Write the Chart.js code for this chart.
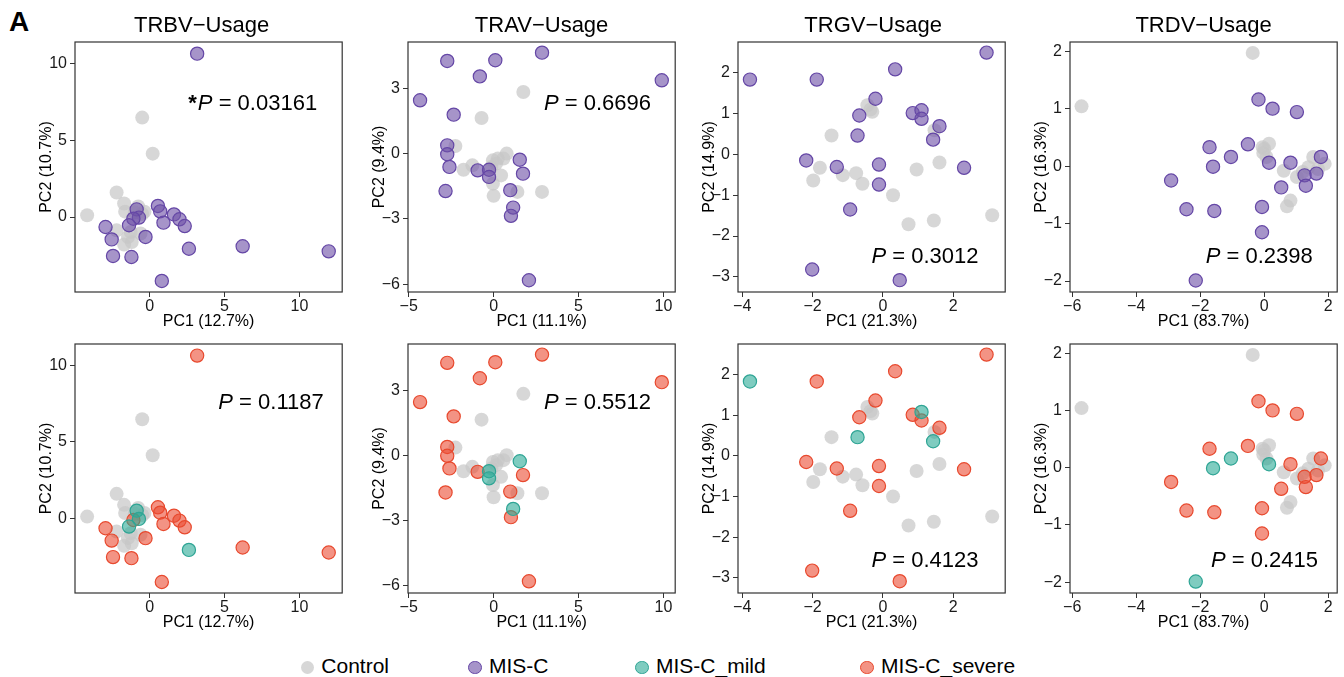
<!DOCTYPE html>
<html>
<head>
<meta charset="utf-8">
<script src="https://cdn.jsdelivr.net/npm/chart.js@4.4.1/dist/chart.umd.min.js"></script>
<style>
  html, body { margin:0; padding:0; background:#fff; overflow:hidden; }
  #wrap { position:relative; width:1344px; height:677px; font-family:'Liberation Sans', Arial, sans-serif; }
  .panel { position:absolute; }
  .panel canvas { display:block; }
  #figA { position:absolute; left:9px; top:8px; font-weight:bold; font-size:28px; line-height:28px; color:#000; }
  .lg-dot { position:absolute; width:11.5px; height:11.5px; border-radius:50%; border:1px solid; }
  .lg-txt { position:absolute; font-size:21px; line-height:21px; color:#000; white-space:nowrap; }
</style>
</head>
<body>
<div id="wrap">
  <div id="figA">A</div>
  <div class="panel" style="left:35px;top:0px"><canvas id="t0" width="315" height="332"></canvas></div>
  <div class="panel" style="left:368px;top:0px"><canvas id="t1" width="315" height="332"></canvas></div>
  <div class="panel" style="left:698px;top:0px"><canvas id="t2" width="315" height="332"></canvas></div>
  <div class="panel" style="left:1030px;top:0px"><canvas id="t3" width="315" height="332"></canvas></div>
  <div class="panel" style="left:35px;top:330px"><canvas id="b0" width="315" height="303"></canvas></div>
  <div class="panel" style="left:368px;top:330px"><canvas id="b1" width="315" height="303"></canvas></div>
  <div class="panel" style="left:698px;top:330px"><canvas id="b2" width="315" height="303"></canvas></div>
  <div class="panel" style="left:1030px;top:330px"><canvas id="b3" width="315" height="303"></canvas></div>
  <div id="legend"></div>
</div>
<script>
// ---------------- DATA ----------------
const panelTitles = ['TRBV−Usage', 'TRAV−Usage', 'TRGV−Usage', 'TRDV−Usage'];
const pc1Labels = ['PC1 (12.7%)', 'PC1 (11.1%)', 'PC1 (21.3%)', 'PC1 (83.7%)'];
const pc2Labels = ['PC2 (10.7%)', 'PC2 (9.4%)', 'PC2 (14.9%)', 'PC2 (16.3%)'];
const pValuesTop = ['0.03161', '0.6696', '0.3012', '0.2398'];
const pValuesBottom = ['0.1187', '0.5512', '0.4123', '0.2415'];
const significantTop = [true, false, false, false];
const groupNames = ['Control', 'MIS-C', 'MIS-C_mild', 'MIS-C_severe'];

const trbvXTicks = [0, 5, 10];
const trbvYTicks = [0, 5, 10];
const travXTicks = [-5, 0, 5, 10];
const travYTicks = [-6, -3, 0, 3];
const trgvXTicks = [-4, -2, 0, 2];
const trgvYTicks = [-3, -2, -1, 0, 1, 2];
const trdvXTicks = [-6, -4, -2, 0, 2];
const trdvYTicks = [-2, -1, 0, 1, 2];

// [PC1, PC2]
const trbvControl = [[-4.18,0.11],[-0.50,6.48],[0.20,4.13],[-2.21,1.60],[-1.71,0.88],[-1.64,0.35],[-0.77,0.68],[-0.35,0.35],[-2.21,-0.87],[-1.71,-1.80],[-1.20,-1.63],[-1.27,-0.98],[-0.61,-1.08],[-0.50,0.20],[-1.00,0.30],[-1.45,-1.30]];
const trbvMISC = [[3.17,10.65],[0.55,0.72],[0.70,0.37],[1.62,0.17],[1.99,-0.15],[2.34,-0.59],[0.92,-0.37],[-0.87,0.50],[-0.72,-0.04],[-1.09,-0.11],[-1.38,-0.54],[-2.95,-0.65],[-2.54,-1.46],[-0.28,-1.30],[2.62,-2.07],[6.21,-1.91],[11.96,-2.24],[-2.45,-2.54],[-1.22,-2.61],[0.81,-4.17]];
const trbvSeverity = ['severe','severe','severe','severe','severe','severe','severe','mild','mild','severe','mild','severe','severe','severe','mild','severe','severe','severe','severe','severe'];

const travControl = [[1.75,2.83],[-0.71,1.64],[-2.25,0.35],[-1.77,-0.74],[-1.25,-0.54],[-0.04,-0.31],[0.25,-0.23],[0.58,-0.23],[0.77,0.00],[0.44,-1.00],[-0.04,-1.38],[0.00,-1.94],[1.40,-1.76],[2.85,-1.76],[-0.13,-0.61],[0.15,-0.45]];
const travMISC = [[-2.73,4.26],[0.10,4.29],[2.85,4.64],[-0.81,3.55],[9.90,3.37],[-4.33,2.45],[-2.35,1.79],[-2.73,0.38],[-2.73,-0.03],[-2.60,-0.61],[-0.94,-0.77],[-0.27,-0.74],[-0.27,-1.07],[1.54,-0.28],[1.73,-0.92],[-2.83,-1.72],[0.98,-1.68],[1.15,-2.48],[1.02,-2.86],[2.08,-5.82]];
const travSeverity = ['severe','severe','severe','severe','severe','severe','severe','severe','severe','severe','severe','mild','mild','mild','severe','severe','severe','mild','severe','severe'];

const trgvControl = [[-0.44,1.20],[-0.30,1.04],[-1.46,0.46],[1.47,0.59],[-1.79,-0.33],[-1.98,-0.64],[-1.14,-0.51],[-0.76,-0.46],[-0.58,-0.72],[0.29,-1.00],[0.96,-0.37],[1.61,-0.20],[0.73,-1.71],[1.45,-1.62],[3.11,-1.49],[-0.35,1.10]];
const trgvMISC = [[-3.78,1.83],[-1.88,1.83],[0.35,2.08],[2.95,2.49],[-0.21,1.36],[-0.67,0.95],[0.85,1.01],[1.10,1.08],[1.10,0.87],[-0.72,0.46],[1.61,0.69],[1.43,0.36],[-2.18,-0.15],[-1.31,-0.31],[-0.11,-0.25],[-0.11,-0.74],[2.31,-0.33],[-0.93,-1.35],[-2.01,-2.82],[0.48,-3.08]];
const trgvSeverity = ['mild','severe','severe','severe','severe','severe','severe','mild','severe','mild','severe','mild','severe','severe','severe','severe','severe','severe','severe','severe'];

const trdvControl = [[-0.36,1.97],[-5.71,1.04],[-0.05,0.33],[0.15,0.39],[-0.03,0.23],[0.07,0.16],[0.61,-0.08],[1.02,-0.19],[1.38,-0.02],[1.53,0.16],[1.89,0.04],[0.82,-0.60],[0.71,-0.70],[1.68,-0.05],[1.20,-0.10],[0.00,0.30]];
const trdvMISC = [[-0.18,1.16],[0.26,1.00],[1.02,0.94],[-1.71,0.33],[-0.51,0.38],[-1.04,0.16],[-1.60,-0.01],[0.15,0.06],[0.82,0.06],[1.77,0.16],[1.26,-0.16],[1.63,-0.13],[1.30,-0.34],[0.53,-0.37],[-2.91,-0.25],[-2.43,-0.75],[-1.56,-0.78],[-0.07,-0.71],[-0.07,-1.15],[-2.14,-1.99]];
const trdvSeverity = ['severe','severe','severe','severe','severe','mild','mild','mild','severe','severe','severe','severe','severe','severe','severe','severe','severe','severe','severe','mild'];

// ---------------- STYLE / LAYOUT ----------------
const COLORS = {
  control: { fill: 'rgba(200,200,200,0.72)', border: 'rgba(200,200,200,0)' },
  misc:    { fill: 'rgba(112,82,168,0.62)',  border: '#6547A6' },
  mild:    { fill: 'rgba(41,170,150,0.6)',   border: '#2FA595' },
  severe:  { fill: 'rgba(235,75,50,0.6)',    border: '#E8492E' }
};
const FONT = "'Liberation Sans', Arial, Helvetica, sans-serif";

const panelData = [
  { ctrl: trbvControl, misc: trbvMISC, sev: trbvSeverity, xt: trbvXTicks, yt: trbvYTicks },
  { ctrl: travControl, misc: travMISC, sev: travSeverity, xt: travXTicks, yt: travYTicks },
  { ctrl: trgvControl, misc: trgvMISC, sev: trgvSeverity, xt: trgvXTicks, yt: trgvYTicks },
  { ctrl: trdvControl, misc: trdvMISC, sev: trdvSeverity, xt: trdvXTicks, yt: trdvYTicks }
];
const panelLayout = [
  { xMin:-4.99, xMax:12.86, yMin:-4.89, yMax:11.41, titleDx:-7,  pTop:[113.3,68],  pBot:[143.3,65] },
  { xMin:-5.04, xMax:10.69, yMin:-6.36, yMax:5.13,  titleDx:0,   pTop:[136,68],    pBot:[136,65] },
  { xMin:-4.12, xMax:3.48,  yMin:-3.37, yMax:2.75,  titleDx:1.5, pTop:[133.4,221.3], pBot:[133.4,223] },
  { xMin:-6.07, xMax:2.28,  yMin:-2.19, yMax:2.16,  titleDx:0,   pTop:[135.7,221.3], pBot:[141,223] }
];

const toPts = arr => arr.map(p => ({ x: p[0], y: p[1] }));
const fmtTick = v => String(v).replace('-', '\u2212');

const panelDecor = {
  id: 'panelDecor',
  afterDraw(chart, args, o) {
    const { ctx, chartArea: a } = chart;
    ctx.save();
    ctx.strokeStyle = '#333';
    ctx.lineWidth = 1.2;
    ctx.strokeRect(a.left, a.top, a.right - a.left, a.bottom - a.top);
    ctx.fillStyle = '#000';
    ctx.textBaseline = 'alphabetic';
    if (o.title) {
      ctx.font = '22px ' + FONT;
      ctx.textAlign = 'center';
      ctx.fillText(o.title, (a.left + a.right) / 2 + o.titleDx, a.top - 10.3);
    }
    // P-value annotation
    ctx.textAlign = 'left';
    let x = a.left + o.pPos[0];
    const y = a.top + o.pPos[1];
    if (o.star) {
      ctx.font = 'bold 22px ' + FONT;
      ctx.fillText('*', x, y);
      x += ctx.measureText('*').width + 1;
    }
    ctx.font = 'italic 22px ' + FONT;
    ctx.fillText('P', x, y);
    x += ctx.measureText('P').width;
    ctx.font = '22px ' + FONT;
    ctx.fillText(' = ' + o.pText, x, y);
    ctx.restore();
  }
};

function pointDataset(label, pts, col) {
  const isCtrl = col === COLORS.control;
  return {
    label: label,
    data: pts,
    backgroundColor: col.fill,
    borderColor: col.border,
    borderWidth: isCtrl ? 0 : 1.2,
    pointRadius: isCtrl ? 7 : 6.6,
    pointHoverRadius: isCtrl ? 7 : 6.6,
    clip: false
  };
}

function makeChart(id, i, isTop) {
  const d = panelData[i], L = panelLayout[i];
  let datasets;
  if (isTop) {
    datasets = [
      pointDataset(groupNames[1], toPts(d.misc), COLORS.misc),
      pointDataset(groupNames[0], toPts(d.ctrl), COLORS.control)
    ];
  } else {
    const mild = d.misc.filter((p, k) => d.sev[k] === 'mild');
    const severe = d.misc.filter((p, k) => d.sev[k] === 'severe');
    datasets = [
      pointDataset(groupNames[2], toPts(mild), COLORS.mild),
      pointDataset(groupNames[3], toPts(severe), COLORS.severe),
      pointDataset(groupNames[0], toPts(d.ctrl), COLORS.control)
    ];
  }
  const tickFont = { family: FONT, size: 16 };
  const titleFont = { family: FONT, size: 16 };
  return new Chart(document.getElementById(id), {
    type: 'scatter',
    data: { datasets },
    plugins: [panelDecor],
    options: {
      responsive: false,
      animation: false,
      events: [],
      layout: { padding: { left: 0, right: 2, top: isTop ? 42 : 14, bottom: 0 } },
      plugins: {
        legend: { display: false },
        tooltip: { enabled: false },
        title: { display: false },
        panelDecor: {
          title: isTop ? panelTitles[i] : null,
          titleDx: L.titleDx,
          pText: isTop ? pValuesTop[i] : pValuesBottom[i],
          star: isTop ? significantTop[i] : false,
          pPos: isTop ? L.pTop : L.pBot
        }
      },
      scales: {
        x: {
          type: 'linear', position: 'bottom',
          min: L.xMin, max: L.xMax,
          afterBuildTicks: s => { s.ticks = d.xt.map(v => ({ value: v })); },
          afterFit: s => { s.height = 40; },
          ticks: { font: tickFont, color: '#1a1a1a', padding: 0, autoSkip: false, maxRotation: 0, minRotation: 0, includeBounds: false, callback: v => fmtTick(v) },
          grid: { drawOnChartArea: false, drawTicks: true, tickLength: 5, color: '#333', lineWidth: 1 },
          border: { display: false },
          title: { display: true, text: pc1Labels[i], font: titleFont, color: '#000', padding: { top: 0, bottom: 1 } }
        },
        y: {
          type: 'linear', position: 'left',
          min: L.yMin, max: L.yMax,
          afterBuildTicks: s => { s.ticks = d.yt.map(v => ({ value: v })); },
          afterFit: s => { s.width = 40; },
          ticks: { font: tickFont, color: '#1a1a1a', padding: 3, autoSkip: false, includeBounds: false, callback: v => fmtTick(v) },
          grid: { drawOnChartArea: false, drawTicks: true, tickLength: 5, color: '#333', lineWidth: 1 },
          border: { display: false },
          title: { display: true, text: pc2Labels[i], font: titleFont, color: '#000', padding: { top: 2, bottom: 0 } }
        }
      }
    }
  });
}

for (let i = 0; i < 4; i++) {
  makeChart('t' + i, i, true);
  makeChart('b' + i, i, false);
}

// ---------------- LEGEND ----------------
const legendX = [307.3, 475, 642, 867];
const legendCols = [COLORS.control, COLORS.misc, COLORS.mild, COLORS.severe];
const lg = document.getElementById('legend');
groupNames.forEach((name, k) => {
  const dot = document.createElement('div');
  dot.className = 'lg-dot';
  dot.style.left = (legendX[k] - 6.75) + 'px';
  dot.style.top = (667.5 - 6.75) + 'px';
  dot.style.background = legendCols[k].fill;
  dot.style.borderColor = k === 0 ? 'transparent' : legendCols[k].border;
  lg.appendChild(dot);
  const t = document.createElement('div');
  t.className = 'lg-txt';
  t.textContent = name;
  t.style.left = (legendX[k] + 14) + 'px';
  t.style.top = '654.5px';
  lg.appendChild(t);
});
</script>
</body>
</html>
